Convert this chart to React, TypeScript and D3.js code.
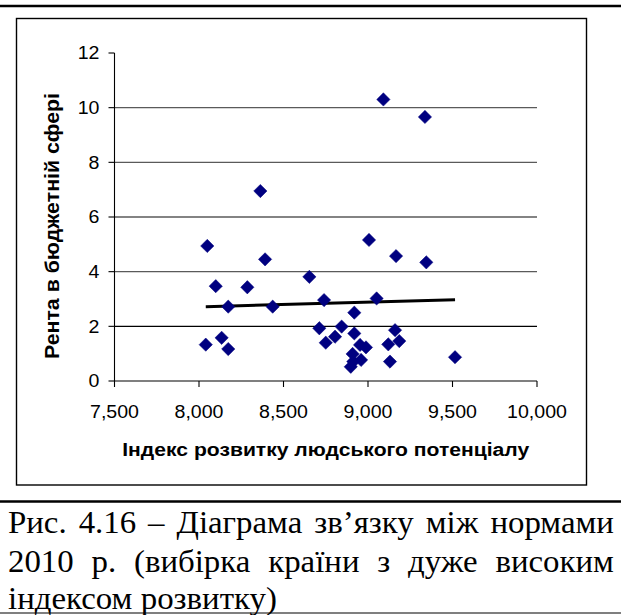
import React, { useEffect, useRef } from 'react';
import * as d3 from 'd3';

const xValues = [8040, 8049, 8099, 8134, 8173, 8173, 8286, 8363, 8391, 8436, 8653, 8712, 8740, 8750, 8805, 8844, 8898, 8909, 8913, 8919, 8919, 8953, 8959, 8988, 9006, 9051, 9091, 9120, 9130, 9160, 9166, 9185, 9337, 9345, 9515];
const yValues = [1.33, 4.94, 3.47, 1.58, 2.72, 1.17, 3.43, 6.95, 4.45, 2.72, 3.81, 1.93, 2.96, 1.40, 1.62, 1.99, 0.52, 0.99, 0.71, 2.50, 1.74, 1.32, 0.77, 1.23, 5.16, 3.02, 10.30, 1.34, 0.71, 1.86, 4.57, 1.46, 9.66, 4.34, 0.87];
const xTicks = [7500, 8000, 8500, 9000, 9500, 10000];
const yTicks = [0, 2, 4, 6, 8, 10, 12];
const xTitle = 'Індекс розвитку людського потенціалу';
const yTitle = 'Рента в бюджетній сфері';
const captionLines = [
  'Рис. 4.16 – Діаграма зв’язку між нормами',
  '2010 р. (вибірка країни з дуже високим',
  'індексом розвитку)',
];

const W = 621;
const H = 615;
const SX = 1.12;
const SERIF = "'Liberation Serif', 'Times New Roman', serif";

export default function App() {
  const capRef = useRef<SVGGElement>(null);

  const x = d3.scaleLinear().domain([7500, 10000]).range([114.5, 537]);
  const y = d3.scaleLinear().domain([0, 12]).range([381, 53]);

  // linear trend (least squares)
  const mx = d3.mean(xValues) as number;
  const my = d3.mean(yValues) as number;
  let sxy = 0, sxx = 0;
  xValues.forEach((v, i) => { sxy += (v - mx) * (yValues[i] - my); sxx += (v - mx) * (v - mx); });
  const slope = sxy / sxx;
  const icpt = my - slope * mx;
  const [xmin, xmax] = d3.extent(xValues) as [number, number];
  const trend = d3.line<number>().x(d => x(d)).y(d => y(icpt + slope * d))([xmin, xmax]) || '';

  const diamond = d3.symbol().type(d3.symbolSquare).size(88)() || '';
  const fmt = d3.format(',');

  useEffect(() => {
    if (!capRef.current) return;
    const g = d3.select(capRef.current);
    g.selectAll('*').remove();
    const capFs = 31;
    const mk = (parent: any, s: string) => parent.append('text')
      .attr('font-family', SERIF).attr('font-size', capFs).attr('fill', '#000')
      .attr('xml:space', 'preserve').text(s);
    const meas = (s: string) => {
      const t = mk(g, s);
      const w = (t.node() as SVGTextElement).getComputedTextLength();
      t.remove();
      return w;
    };
    const l3w = meas(captionLines[2]);
    let csx = 269 / l3w;
    if (!(csx > 0.8 && csx < 1.4)) csx = SX;
    const spaceW = (meas('a a') - meas('aa')) * csx;
    const capLeft = 8, capRight = 614;
    const baselines = [533, 572, 609];
    captionLines.forEach((line, li) => {
      const ws = line.split(' ');
      const widths = ws.map(w => meas(w) * csx);
      const total = d3.sum(widths);
      const gap = li < 2 ? Math.max(spaceW, (capRight - capLeft - total) / (ws.length - 1)) : spaceW;
      let cx = capLeft;
      ws.forEach((w, i) => {
        const gg = g.append('g').attr('transform', `translate(${cx},${baselines[li]}) scale(${csx},1)`);
        mk(gg, w);
        cx += widths[i] + gap;
      });
    });
  }, []);

  return (
    <svg width={W} height={H} style={{ position: 'absolute', left: 0, top: 0, background: '#fff' }}
      fontFamily="'Liberation Sans', Arial, sans-serif">
      <rect x={0} y={0} width={W} height={H} fill="#fff" />
      {/* top rule */}
      <line x1={0} x2={W} y1={6} y2={6} stroke="#000" strokeWidth={2.6} />
      {/* chart frame */}
      <rect x={16.5} y={18.5} width={570} height={466.5} fill="none" stroke="#000" strokeWidth={1.4} />

      {/* gridlines */}
      {yTicks.filter(t => t > 0 && t < 12).map(t => (
        <line key={'g' + t} x1={x(7500)} x2={x(10000)} y1={y(t)} y2={y(t)}
          stroke={t === 2 ? '#000' : '#5a5a5a'} strokeWidth={t === 2 ? 1.1 : 1.4} />
      ))}

      {/* y axis */}
      <line x1={x(7500)} x2={x(7500)} y1={y(12)} y2={y(0)} stroke="#000" strokeWidth={1.1} />
      {yTicks.map(t => (
        <g key={'yt' + t}>
          <line x1={x(7500) - 6} x2={x(7500)} y1={y(t)} y2={y(t)} stroke="#000" strokeWidth={1.1} />
          <g transform={`translate(${x(7500) - 15},${y(t) + 6.3}) scale(${SX},1)`}>
            <text textAnchor="end" fontSize={17.5} fill="#000">{t}</text>
          </g>
        </g>
      ))}

      {/* x axis */}
      <line x1={x(7500)} x2={x(10000)} y1={y(0)} y2={y(0)} stroke="#000" strokeWidth={1.1} />
      {xTicks.map(t => (
        <g key={'xt' + t}>
          <line x1={x(t)} x2={x(t)} y1={y(0)} y2={y(0) + 6} stroke="#000" strokeWidth={1.1} />
          <g transform={`translate(${x(t)},${417.5}) scale(${SX},1)`}>
            <text textAnchor="middle" fontSize={17.5} fill="#000">{fmt(t)}</text>
          </g>
        </g>
      ))}

      {/* axis titles */}
      <text x={(x(7500) + x(10000)) / 2} y={455.5} textAnchor="middle" fontSize={18} fontWeight="bold"
        textLength={407} lengthAdjust="spacingAndGlyphs">{xTitle}</text>
      <g transform={`translate(58.5,${226}) scale(${SX},1) rotate(-90)`}>
        <text x={0} y={0} textAnchor="middle" fontSize={18} fontWeight="bold"
          textLength={266} lengthAdjust="spacingAndGlyphs">{yTitle}</text>
      </g>

      {/* trend line */}
      <path d={trend} fill="none" stroke="#000" strokeWidth={3} />

      {/* points */}
      {xValues.map((v, i) => (
        <path key={'p' + i} d={diamond} transform={`translate(${x(v)},${y(yValues[i])}) rotate(45)`}
          fill="#000080" stroke="#000080" strokeWidth={0.5} />
      ))}

      {/* caption */}
      <line x1={0} x2={W} y1={501.5} y2={501.5} stroke="#000" strokeWidth={2.6} />
      <g ref={capRef} />
      <line x1={0} x2={W} y1={613} y2={613} stroke="#000" strokeWidth={1.2} />
    </svg>
  );
}
